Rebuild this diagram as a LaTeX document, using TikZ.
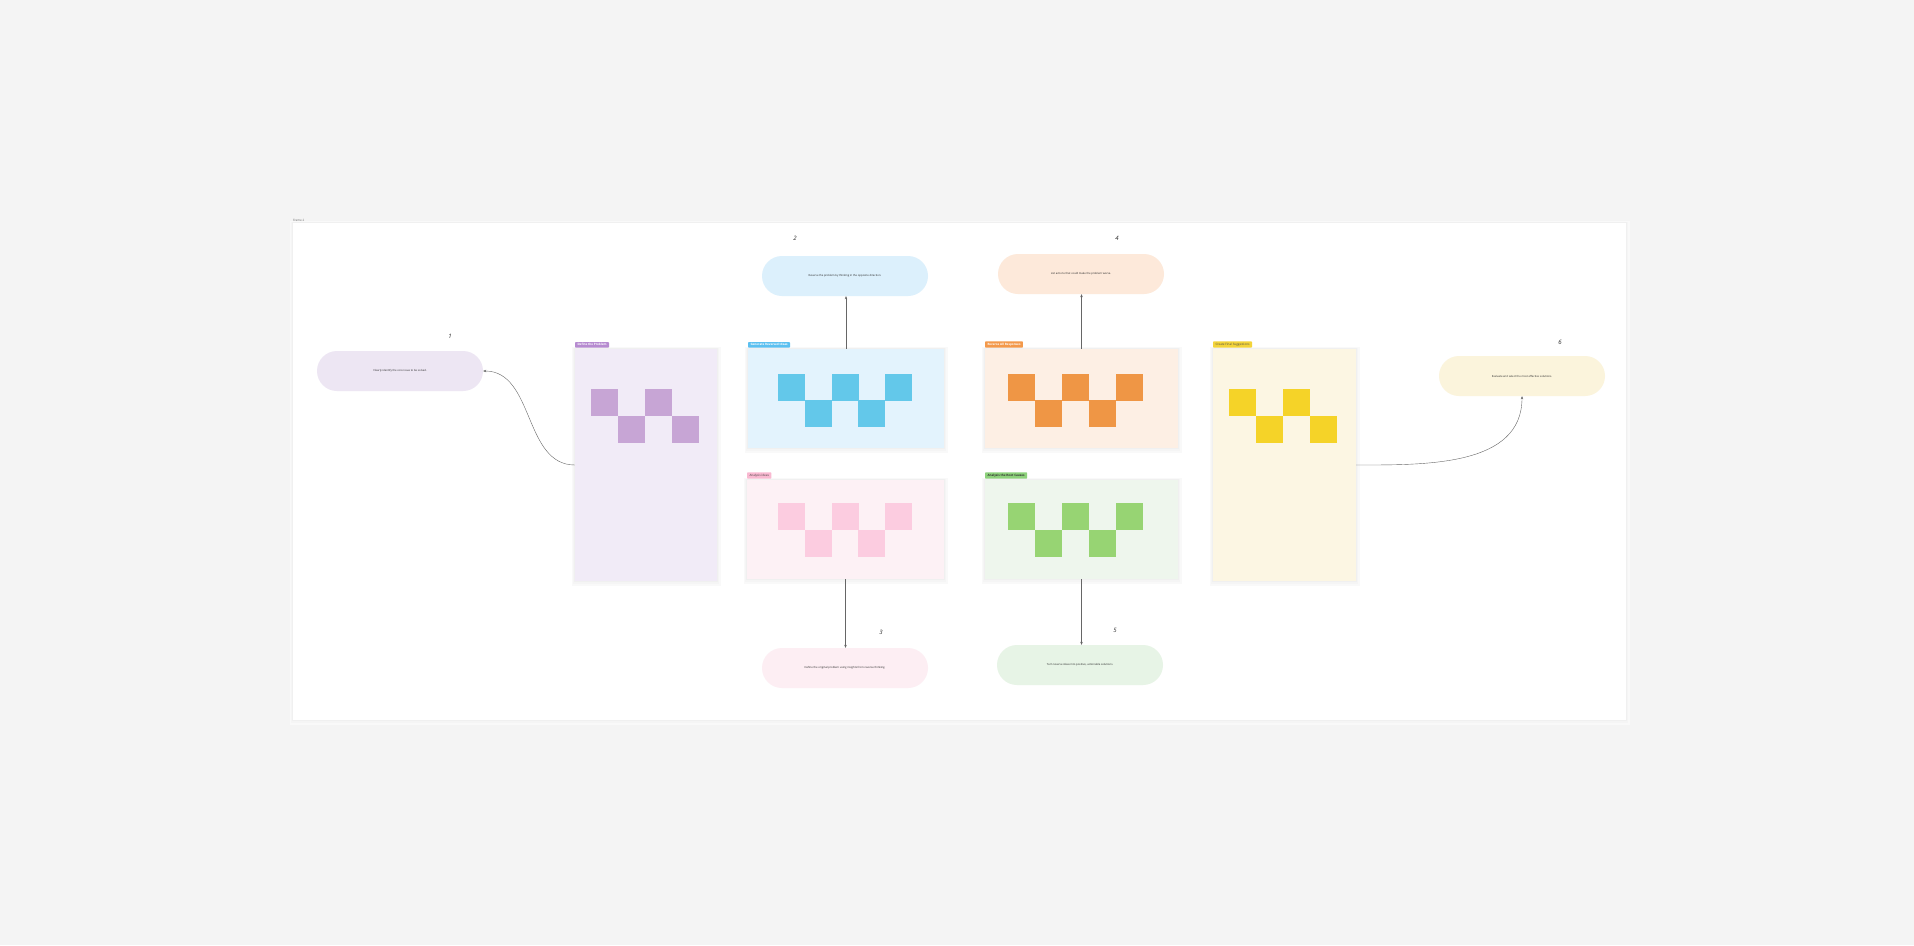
\documentclass[tikz,border=0pt]{standalone}
\usepackage{fontspec}
\setmainfont{Open Sans}
\usepackage{tikz}
\usetikzlibrary{%
        arrows.meta,
        positioning,
        shapes.misc
    }
\definecolor{canvas}{HTML}{F4F4F4}
\definecolor{purplelight}{HTML}{EDE6F3}
\definecolor{purplecard}{HTML}{F1EBF7}
\definecolor{purplecell}{HTML}{C7A5D5}
\definecolor{purpletag}{HTML}{B68BD0}
\definecolor{bluelight}{HTML}{DCF0FC}
\definecolor{bluecard}{HTML}{E3F3FD}
\definecolor{bluecell}{HTML}{63C8EA}
\definecolor{bluetag}{HTML}{5CC0F0}
\definecolor{orangelight}{HTML}{FDE9DA}
\definecolor{orangecard}{HTML}{FDEFE4}
\definecolor{orangecell}{HTML}{EF9645}
\definecolor{orangetag}{HTML}{F3994B}
\definecolor{pinklight}{HTML}{FDEEF3}
\definecolor{pinkcard}{HTML}{FDF1F5}
\definecolor{pinkcell}{HTML}{FCCCE0}
\definecolor{pinktag}{HTML}{F9B9D1}
\definecolor{greenlight}{HTML}{E7F4E6}
\definecolor{greencard}{HTML}{EEF6ED}
\definecolor{greencell}{HTML}{97D473}
\definecolor{greentag}{HTML}{8DD17B}
\definecolor{yellowlight}{HTML}{FBF4DC}
\definecolor{yellowcard}{HTML}{FCF6E3}
\definecolor{yellowcell}{HTML}{F5D328}
\definecolor{yellowtag}{HTML}{F3D43A}

\tikzset{
    idea/.style={rounded rectangle, minimum width=166pt, minimum height=40pt,
        inner sep=0pt, text=black!85, font=\fontsize{2.7}{3}\selectfont},
    card/.style={rectangle, inner sep=0pt,
        preaction={draw=black!2.5, line width=7pt, transform canvas={yshift=-1pt}},
        preaction={draw=black!4, line width=4pt, transform canvas={yshift=-1pt}},
        preaction={draw=black!6, line width=2pt}},
    tag/.style={rectangle, rounded corners=0.8pt, inner xsep=2.5pt,
        inner ysep=1.6pt, anchor=south west,
        font=\bfseries\fontsize{3}{3.5}\selectfont},
    cell/.style={rectangle, minimum size=27pt, inner sep=0pt},
    num/.style={font=\itshape\fontsize{6}{6}\selectfont, text=black!85},
    link/.style={-{Stealth[length=3pt, width=2.5pt]}, line width=0.4pt,
        draw=black!60}
}

\begin{document}
\begin{tikzpicture}[x=1pt, y=1pt]

    % canvas and frame
    \fill[canvas] (0, 0) rectangle (1914, -945);
    \node[card, fill=white, minimum width=1333pt, minimum height=497pt]
        (frame) at (959.5, -471.5) {};
    \node[anchor=south west, inner sep=0pt, text=black!60,
        font=\fontsize{3}{3.5}\selectfont]
        (framename) at ([yshift=1.5pt]frame.north west) {Frame 2};

    % cards
    \node[card, fill=purplecard, minimum width=142pt, minimum height=232pt]
        (defcard) at (646, -465) {};
    \node[card, fill=bluecard, minimum width=196pt, minimum height=99pt]
        (gencard) at (846, -398.5) {};
    \node[card, fill=orangecard, minimum width=193pt, minimum height=99pt]
        (revcard) at (1081.5, -398.5) {};
    \node[card, fill=pinkcard, minimum width=197pt, minimum height=99pt]
        (anacard) at (845.5, -529.5) {};
    \node[card, fill=greencard, minimum width=193pt, minimum height=99pt]
        (rootcard) at (1081.5, -529.5) {};
    \node[card, fill=yellowcard, minimum width=143pt, minimum height=232pt]
        (sugcard) at (1284.5, -465) {};

    % card tags
    \node[tag, fill=purpletag, text=white] (deftag)
        at ([yshift=1pt]defcard.north west) {Define the Problem};
    \node[tag, fill=bluetag, text=white] (gentag)
        at ([yshift=1pt]gencard.north west) {Generate Reversed Ideas};
    \node[tag, fill=orangetag, text=white] (revtag)
        at ([yshift=1pt]revcard.north west) {Reverse All Responses};
    \node[tag, fill=pinktag, text=black!75, font=\fontsize{3}{3.5}\selectfont]
        (anatag) at ([yshift=1pt]anacard.north west) {Analysis ideas};
    \node[tag, fill=greentag, text=black!80] (roottag)
        at ([yshift=1pt]rootcard.north west) {Analysis the Root Causes};
    \node[tag, fill=yellowtag, text=black!70, font=\fontsize{3}{3.5}\selectfont]
        (sugtag) at ([yshift=1pt]sugcard.north west) {Create Final Suggestions};

    % sticky cells
    \foreach \cx/\cy in {604.5/402.5, 658.5/402.5, 631.5/429.5, 685.5/429.5} {%
        \node[cell, fill=purplecell] at (\cx, -\cy) {};
    };
    \foreach \cx/\cy in {791/387, 845/387, 898/387, 818/413.5, 871/413.5} {%
        \node[cell, fill=bluecell] at (\cx, -\cy) {};
        \node[cell, fill=pinkcell] at (\cx, -\cy-129.5) {};
    };
    \foreach \cx/\cy in {1021.5/387, 1075.5/387, 1129.5/387,
                         1048.5/413.5, 1102.5/413.5} {%
        \node[cell, fill=orangecell] at (\cx, -\cy) {};
        \node[cell, fill=greencell] at (\cx, -\cy-129.5) {};
    };
    \foreach \cx/\cy in {1242.5/402.5, 1296.5/402.5, 1269.5/429.5, 1323.5/429.5} {%
        \node[cell, fill=yellowcell] at (\cx, -\cy) {};
    };

    % step ideas
    \node[idea, fill=purplelight] (defidea) at (400, -371)
        {Clearly identify the core issue to be solved.};
    \node[idea, fill=bluelight] (genidea) at (845, -276)
        {Reverse the problem by thinking in the opposite direction.};
    \node[idea, fill=orangelight] (revidea) at (1081, -274)
        {List actions that could make the problem worse.};
    \node[idea, fill=pinklight] (anaidea) at (845, -668)
        {Define the original problem using insights from reverse thinking.};
    \node[idea, fill=greenlight] (rootidea) at (1080, -665)
        {Turn reverse ideas into positive, actionable solutions.};
    \node[idea, fill=yellowlight] (sugidea) at (1522, -376)
        {Evaluate and select the most effective solutions.};

    % step numbers
    \node[num] (num1) at (450, -336) {1};
    \node[num] (num2) at (795, -238) {2};
    \node[num] (num3) at (881, -632) {3};
    \node[num] (num4) at (1117, -238) {4};
    \node[num] (num5) at (1115, -630) {5};
    \node[num] (num6) at (1560, -342) {6};

    % links
    \draw[link] (defcard.west) to[out=180, in=0] (defidea.east);
    \draw[link] (gencard.north) -- (gencard.north |- genidea.south);
    \draw[link] (revcard.north) -- (revcard.north |- revidea.south);
    \draw[link] (anacard.south) -- (anacard.south |- anaidea.north);
    \draw[link] (rootcard.south) -- (rootcard.south |- rootidea.north);
    \draw[link] (sugcard.east) to[out=0, in=-90] (sugidea.south);

\end{tikzpicture}
\end{document}
